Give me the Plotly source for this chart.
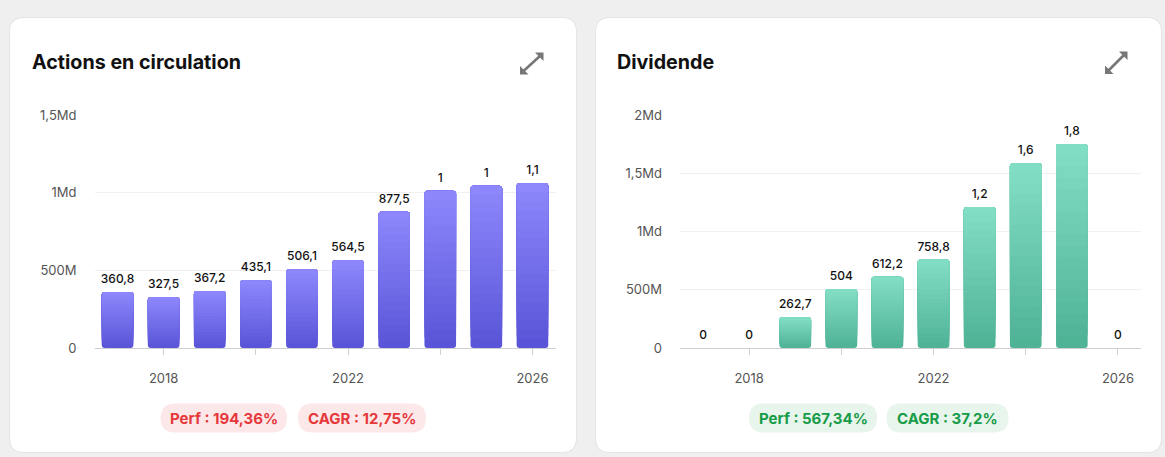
import plotly.graph_objects as go

# ---------------- data ----------------
years = [2017, 2018, 2019, 2020, 2021, 2022, 2023, 2024, 2025, 2026]
shares_out = [360.8e6, 327.5e6, 367.2e6, 435.1e6, 506.1e6, 564.5e6, 877.5e6, 1.013e9, 1.045e9, 1.06e9]
dividend = [0, 0, 262.7e6, 504.0e6, 612.2e6, 758.8e6, 1.21e9, 1.586e9, 1.752e9, 0]

x_tickvals = [2018, 2020, 2022, 2024, 2026]
x_ticktext = ["2018", "", "2022", "", "2026"]
left_yvals = [0, 5e8, 1e9, 1.5e9]
left_ytext = ["0", "500M", "1Md", "1,5Md"]
right_yvals = [0, 5e8, 1e9, 1.5e9, 2e9]
right_ytext = ["0", "500M", "1Md", "1,5Md", "2Md"]

titles = ["Actions en circulation", "Dividende"]
left_badges = ["Perf : 194,36%", "CAGR : 12,75%"]
right_badges = ["Perf : 567,34%", "CAGR : 37,2%"]

# ---------------- helpers ----------------
W, H = 1165, 457
# the rendered paper occupies screen rows TOP..TOP+PH in the page
TOP, PH = 8, 441
FONT = "Inter"


def fx(x):
    return x / W


def fy(y):
    return 1 - (y - TOP) / PH


def fmt(v):
    if v >= 1e9:
        s = f"{v / 1e9:.1f}"
    else:
        s = f"{v / 1e6:.1f}"
    s = s.replace(".", ",")
    if s.endswith(",0"):
        s = s[:-2]
    return s


def hex2rgb(h):
    h = h.lstrip("#")
    return tuple(int(h[i:i + 2], 16) for i in (0, 2, 4))


def mix(c0, c1, t):
    a, b = hex2rgb(c0), hex2rgb(c1)
    return "rgb(%d,%d,%d)" % tuple(round(a[i] + (b[i] - a[i]) * t) for i in range(3))


def rrect(x0, y0, x1, y1, r):
    rx, ry = r / W, r / PH
    X0, X1 = fx(x0), fx(x1)
    Y0, Y1 = fy(y0), fy(y1)  # Y0 top, Y1 bottom (paper)
    return (f"M {X0 + rx},{Y0} L {X1 - rx},{Y0} Q {X1},{Y0} {X1},{Y0 - ry} "
            f"L {X1},{Y1 + ry} Q {X1},{Y1} {X1 - rx},{Y1} "
            f"L {X0 + rx},{Y1} Q {X0},{Y1} {X0},{Y1 + ry} "
            f"L {X0},{Y0 - ry} Q {X0},{Y0} {X0 + rx},{Y0} Z")


def poly(pts):
    return "M " + " L ".join(f"{fx(x)},{fy(y)}" for x, y in pts) + " Z"


fig = go.Figure()

N = 18
charts = [
    dict(vals=shares_out, xa="x", ya="y", bottom="#5a55d8", top="#8d87fb"),
    dict(vals=dividend, xa="x2", ya="y2", bottom="#4fb396", top="#82ddc5"),
]
for ch in charts:
    v = ch["vals"]
    for k in range(N):
        bases = [val * k / N for val in v]
        heights = [val * (1 - k / N) for val in v]
        fig.add_trace(go.Bar(
            x=years, y=heights, base=bases,
            marker=dict(color=mix(ch["bottom"], ch["top"], k / (N - 1)), line=dict(width=0)),
            xaxis=ch["xa"], yaxis=ch["ya"], showlegend=False, hoverinfo="skip",
        ))
    fig.add_trace(go.Scatter(
        x=years, y=v, mode="markers+text", text=[fmt(val) for val in v],
        textposition="top center",
        marker=dict(size=8, color="rgba(0,0,0,0)"),
        textfont=dict(family=FONT, size=12, color="#111111", weight=500),
        cliponaxis=False, xaxis=ch["xa"], yaxis=ch["ya"], showlegend=False, hoverinfo="skip",
    ))

# ---------------- decorations ----------------
shapes = []
for (x0, x1) in [(10, 576), (596, 1161)]:
    shapes.append(dict(type="path", xref="paper", yref="paper", path=rrect(x0 - 1, 17, x1 + 1, 453, 15),
                       fillcolor="#e5e5e5", line=dict(width=0), layer="below"))
    shapes.append(dict(type="path", xref="paper", yref="paper", path=rrect(x0, 18, x1, 452, 14),
                       fillcolor="#ffffff", line=dict(width=0), layer="below"))

red_txt, red_bg = "#e5383b", "#fde8e9"
green_txt, green_bg = "#179c48", "#e8f5ec"
pills = [
    (160.5, 287, left_badges[0], red_txt, red_bg),
    (298, 426, left_badges[1], red_txt, red_bg),
    (749, 877, right_badges[0], green_txt, green_bg),
    (886.5, 1008.5, right_badges[1], green_txt, green_bg),
]
annotations = []
for (x0, x1, txt, tc, bg) in pills:
    shapes.append(dict(type="path", xref="paper", yref="paper", path=rrect(x0, 403.5, x1, 432.5, 14.5),
                       fillcolor=bg, line=dict(width=0), layer="below"))
    annotations.append(dict(xref="paper", yref="paper", x=fx((x0 + x1) / 2), y=fy(418.5),
                            text=txt, showarrow=False, xanchor="center", yanchor="middle",
                            font=dict(family=FONT, size=15, color=tc, weight=700)))

for tx, title in [(29.5, titles[0]), (614.5, titles[1])]:
    annotations.append(dict(xref="paper", yref="paper", x=fx(tx), y=fy(62), text=title,
                            showarrow=False, xanchor="left", yanchor="middle",
                            font=dict(family=FONT, size=19.7, color="#111111", weight=700)))

# expand icons (double arrows): shaft + two triangular heads
ICON = "#777777"
for (tx1, ty1, tx0, ty0) in [(543.5, 52.5, 520, 74.5), (1127.5, 51.5, 1105, 74)]:
    L = 8.5
    shapes.append(dict(type="line", xref="paper", yref="paper",
                       x0=fx(tx0 + 3), y0=fy(ty0 - 3), x1=fx(tx1 - 3), y1=fy(ty1 + 3),
                       line=dict(color=ICON, width=2.6)))
    shapes.append(dict(type="path", xref="paper", yref="paper",
                       path=poly([(tx1, ty1), (tx1 - L, ty1), (tx1, ty1 + L)]),
                       fillcolor=ICON, line=dict(width=0)))
    shapes.append(dict(type="path", xref="paper", yref="paper",
                       path=poly([(tx0, ty0), (tx0 + L, ty0), (tx0, ty0 - L)]),
                       fillcolor=ICON, line=dict(width=0)))

axis_common_x = dict(range=[2016.5, 2026.5], tickvals=x_tickvals, ticktext=x_ticktext,
                     ticks="outside", ticklen=6, tickcolor="#cfcfcf", showgrid=False,
                     showline=True, linecolor="#cfcfcf", linewidth=1, zeroline=False,
                     tickfont=dict(family=FONT, size=13, color="#555555"), ticklabelstandoff=12,
                     fixedrange=True)
axis_common_y = dict(ticks="", showline=False, zeroline=False, showgrid=True,
                     gridcolor="#f0f0f0", gridwidth=1,
                     tickfont=dict(family=FONT, size=13, color="#555555"), ticklabelstandoff=17,
                     fixedrange=True)

ydom = [fy(348), fy(115)]
fig.update_layout(
    width=W, height=H, margin=dict(l=0, r=0, t=0, b=0),
    paper_bgcolor="#efefef", plot_bgcolor="rgba(0,0,0,0)",
    barmode="overlay", bargap=0.314, barcornerradius=3,
    showlegend=False,
    xaxis=dict(domain=[fx(94.5), fx(555.5)], anchor="y", **axis_common_x),
    yaxis=dict(domain=ydom, anchor="x", range=[0, 1.5e9], tickvals=left_yvals, ticktext=left_ytext,
               **axis_common_y),
    xaxis2=dict(domain=[fx(680), fx(1141)], anchor="y2", **axis_common_x),
    yaxis2=dict(domain=ydom, anchor="x2", range=[0, 2e9], tickvals=right_yvals, ticktext=right_ytext,
                **axis_common_y),
    shapes=shapes, annotations=annotations,
    font=dict(family=FONT),
)

fig.write_html("out.html", config={"displayModeBar": False},
               post_script="document.body.style.background='#efefef';"
                           "document.documentElement.style.background='#efefef';")
